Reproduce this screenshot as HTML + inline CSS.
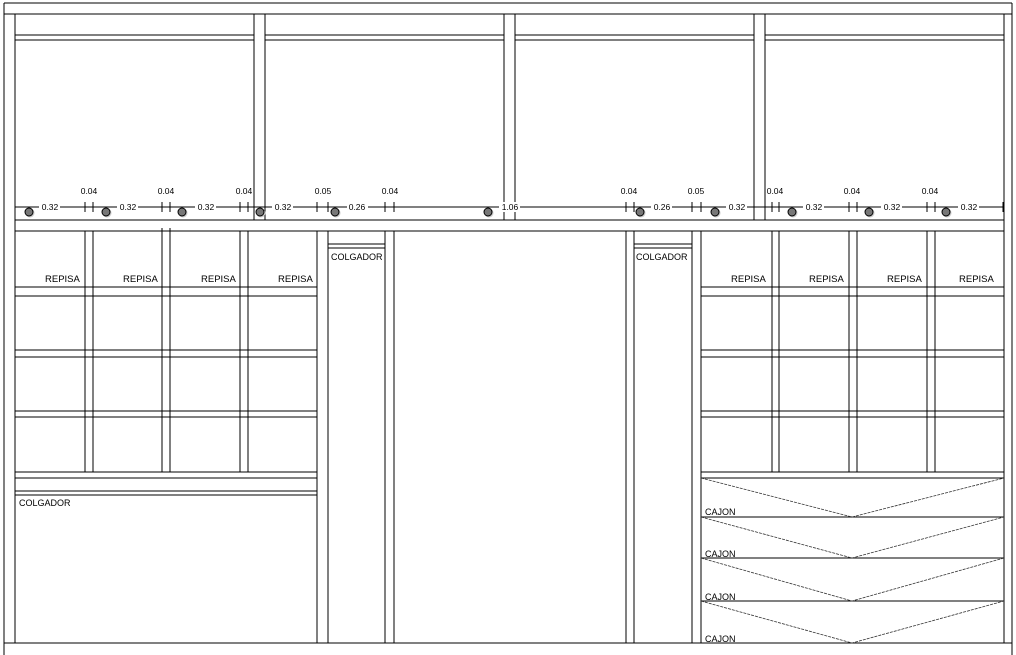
<!DOCTYPE html>
<html><head><meta charset="utf-8"><style>
html,body{margin:0;padding:0;background:#fff;}
svg{display:block;}
text{font-family:"Liberation Sans",sans-serif;fill:#000;}
</style></head><body>
<svg width="1016" height="655" viewBox="0 0 1016 655" xmlns="http://www.w3.org/2000/svg">
<g stroke="#000" stroke-width="1.3" fill="none" shape-rendering="crispEdges">
<line x1="4" y1="3" x2="1012" y2="3"/>
<line x1="4" y1="3" x2="4" y2="655"/>
<line x1="1012" y1="3" x2="1012" y2="655"/>
<line x1="4" y1="14" x2="1012" y2="14"/>
<line x1="15" y1="14" x2="15" y2="643"/>
<line x1="1004" y1="14" x2="1004" y2="643"/>
<line x1="4" y1="643" x2="1012" y2="643"/>
<line x1="15" y1="35" x2="254" y2="35"/><line x1="15" y1="40" x2="254" y2="40"/>
<line x1="265" y1="35" x2="504" y2="35"/><line x1="265" y1="40" x2="504" y2="40"/>
<line x1="515" y1="35" x2="754" y2="35"/><line x1="515" y1="40" x2="754" y2="40"/>
<line x1="765" y1="35" x2="1004" y2="35"/><line x1="765" y1="40" x2="1004" y2="40"/>
<line x1="254" y1="14" x2="254" y2="220"/><line x1="265" y1="14" x2="265" y2="220"/>
<line x1="504" y1="14" x2="504" y2="220"/><line x1="515" y1="14" x2="515" y2="220"/>
<line x1="754" y1="14" x2="754" y2="220"/><line x1="765" y1="14" x2="765" y2="220"/>
<line x1="15" y1="220" x2="1004" y2="220"/>
<line x1="15" y1="231" x2="1004" y2="231"/>
<line x1="85" y1="231" x2="85" y2="472"/><line x1="93" y1="231" x2="93" y2="472"/>
<line x1="162" y1="228" x2="162" y2="472"/><line x1="170" y1="228" x2="170" y2="472"/>
<line x1="240" y1="231" x2="240" y2="472"/><line x1="248" y1="231" x2="248" y2="472"/>
<line x1="15" y1="287" x2="317" y2="287"/><line x1="15" y1="296" x2="317" y2="296"/>
<line x1="15" y1="350" x2="317" y2="350"/><line x1="15" y1="357" x2="317" y2="357"/>
<line x1="15" y1="411" x2="317" y2="411"/><line x1="15" y1="417" x2="317" y2="417"/>
<line x1="15" y1="472" x2="317" y2="472"/><line x1="15" y1="478" x2="317" y2="478"/>
<line x1="15" y1="491" x2="317" y2="491"/><line x1="15" y1="495" x2="317" y2="495"/>
<line x1="317" y1="231" x2="317" y2="643"/><line x1="328" y1="231" x2="328" y2="643"/>
<line x1="385" y1="231" x2="385" y2="643"/><line x1="394" y1="231" x2="394" y2="643"/>
<line x1="328" y1="244" x2="385" y2="244"/><line x1="328" y1="248" x2="385" y2="248"/>
<line x1="626" y1="231" x2="626" y2="643"/><line x1="634" y1="231" x2="634" y2="643"/>
<line x1="692" y1="231" x2="692" y2="643"/><line x1="701" y1="231" x2="701" y2="643"/>
<line x1="634" y1="244" x2="692" y2="244"/><line x1="634" y1="248" x2="692" y2="248"/>
<line x1="772" y1="231" x2="772" y2="472"/><line x1="779" y1="231" x2="779" y2="472"/>
<line x1="849" y1="231" x2="849" y2="472"/><line x1="857" y1="231" x2="857" y2="472"/>
<line x1="927" y1="231" x2="927" y2="472"/><line x1="935" y1="231" x2="935" y2="472"/>
<line x1="701" y1="287" x2="1004" y2="287"/><line x1="701" y1="296" x2="1004" y2="296"/>
<line x1="701" y1="350" x2="1004" y2="350"/><line x1="701" y1="357" x2="1004" y2="357"/>
<line x1="701" y1="411" x2="1004" y2="411"/><line x1="701" y1="417" x2="1004" y2="417"/>
<line x1="701" y1="472" x2="1004" y2="472"/><line x1="701" y1="478" x2="1004" y2="478"/>
<line x1="701" y1="517" x2="1004" y2="517"/>
<line x1="701" y1="558" x2="1004" y2="558"/>
<line x1="701" y1="601" x2="1004" y2="601"/>
<line x1="15" y1="207" x2="1004" y2="207"/>
</g>
<g stroke="#333" stroke-width="0.8" stroke-dasharray="3,1" fill="none">
<polyline points="701,478 852,517 1004,478"/>
<polyline points="701,517 852,558 1004,517"/>
<polyline points="701,558 852,601 1004,558"/>
<polyline points="701,601 852,643 1004,601"/>
</g>
<g stroke="#000" stroke-width="1" shape-rendering="crispEdges">
<path d="M85 202V212M93 202V212M162 202V212M170 202V212M240 202V212M248 202V212M317 202V212M328 202V212M385 202V212M394 202V212M626 202V212M634 202V212M692 202V212M701 202V212M772 202V212M779 202V212M849 202V212M857 202V212M927 202V212M935 202V212M1003 202V212"/>
</g>
<g fill="#fff">
<rect x="39" y="202" width="21" height="10"/><rect x="117" y="202" width="21" height="10"/>
<rect x="195" y="202" width="21" height="10"/><rect x="272" y="202" width="21" height="10"/>
<rect x="347" y="202" width="21" height="10"/><rect x="499" y="202" width="21" height="10"/>
<rect x="651" y="202" width="21" height="10"/><rect x="726" y="202" width="21" height="10"/>
<rect x="803" y="202" width="21" height="10"/><rect x="881" y="202" width="21" height="10"/>
<rect x="958" y="202" width="21" height="10"/>
</g>
<g font-size="8.5" text-anchor="middle">
<text x="50" y="210">0.32</text><text x="128" y="210">0.32</text><text x="206" y="210">0.32</text><text x="283" y="210">0.32</text>
<text x="357" y="210">0.26</text><text x="510" y="210">1.06</text><text x="662" y="210">0.26</text>
<text x="737" y="210">0.32</text><text x="814" y="210">0.32</text><text x="892" y="210">0.32</text><text x="969" y="210">0.32</text>
<text x="89" y="194">0.04</text><text x="166" y="194">0.04</text><text x="244" y="194">0.04</text>
<text x="323" y="194">0.05</text><text x="390" y="194">0.04</text>
<text x="629" y="194">0.04</text><text x="696" y="194">0.05</text>
<text x="775" y="194">0.04</text><text x="852" y="194">0.04</text><text x="930" y="194">0.04</text>
</g>
<g>
<circle cx="30" cy="213" r="4.5" fill="#ccc"/><circle cx="29" cy="212" r="4" fill="#777" stroke="#000" stroke-width="1"/>
<circle cx="107" cy="213" r="4.5" fill="#ccc"/><circle cx="106" cy="212" r="4" fill="#777" stroke="#000" stroke-width="1"/>
<circle cx="183" cy="213" r="4.5" fill="#ccc"/><circle cx="182" cy="212" r="4" fill="#777" stroke="#000" stroke-width="1"/>
<circle cx="261" cy="213" r="4.5" fill="#ccc"/><circle cx="260" cy="212" r="4" fill="#777" stroke="#000" stroke-width="1"/>
<circle cx="336" cy="213" r="4.5" fill="#ccc"/><circle cx="335" cy="212" r="4" fill="#777" stroke="#000" stroke-width="1"/>
<circle cx="489" cy="213" r="4.5" fill="#ccc"/><circle cx="488" cy="212" r="4" fill="#777" stroke="#000" stroke-width="1"/>
<circle cx="641" cy="213" r="4.5" fill="#ccc"/><circle cx="640" cy="212" r="4" fill="#777" stroke="#000" stroke-width="1"/>
<circle cx="716" cy="213" r="4.5" fill="#ccc"/><circle cx="715" cy="212" r="4" fill="#777" stroke="#000" stroke-width="1"/>
<circle cx="793" cy="213" r="4.5" fill="#ccc"/><circle cx="792" cy="212" r="4" fill="#777" stroke="#000" stroke-width="1"/>
<circle cx="870" cy="213" r="4.5" fill="#ccc"/><circle cx="869" cy="212" r="4" fill="#777" stroke="#000" stroke-width="1"/>
<circle cx="947" cy="213" r="4.5" fill="#ccc"/><circle cx="946" cy="212" r="4" fill="#777" stroke="#000" stroke-width="1"/>
</g>
<g font-size="9.5">
<text x="45" y="282">REPISA</text><text x="123" y="282">REPISA</text><text x="201" y="282">REPISA</text><text x="278" y="282">REPISA</text>
<text x="731" y="282">REPISA</text><text x="809" y="282">REPISA</text><text x="887" y="282">REPISA</text><text x="959" y="282">REPISA</text>
</g>
<g font-size="9">
<text x="331" y="260">COLGADOR</text><text x="636" y="260">COLGADOR</text>
<text x="19" y="506">COLGADOR</text>
<text x="705" y="515">CAJON</text><text x="705" y="557">CAJON</text><text x="705" y="600">CAJON</text><text x="705" y="642">CAJON</text>
</g>
</svg>
</body></html>
